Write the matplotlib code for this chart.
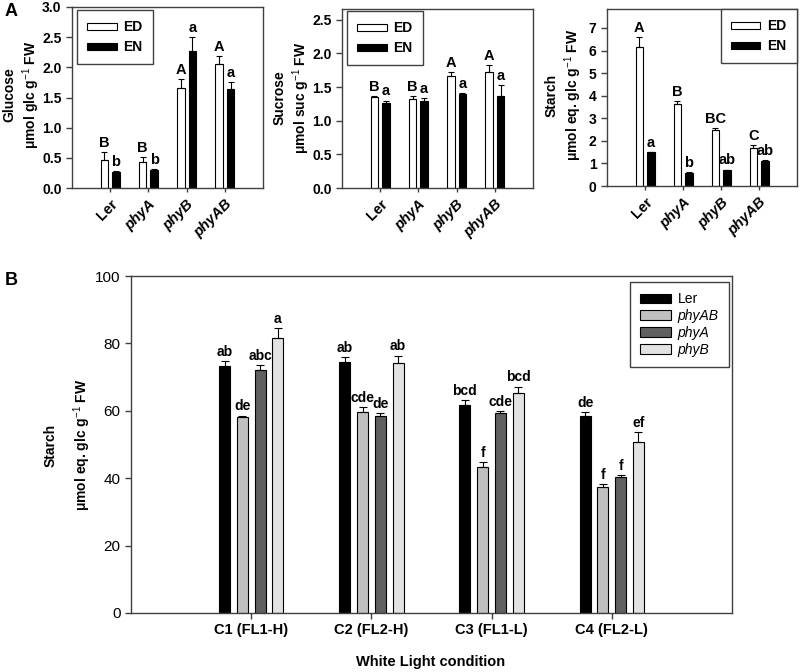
import matplotlib
matplotlib.use('Agg')
import matplotlib.pyplot as plt
import numpy as np
from matplotlib.patches import Patch

plt.rcParams['font.family'] = ['Liberation Sans', 'DejaVu Sans']
plt.rcParams['mathtext.fontset'] = 'custom'
plt.rcParams['mathtext.bf'] = 'Liberation Sans:bold'
plt.rcParams['mathtext.rm'] = 'Liberation Sans'

# ---------------- Panel A data ----------------
genotypes = ['Ler', 'phyA', 'phyB', 'phyAB']

glc_ed = [0.46, 0.425, 1.65, 2.06]
glc_ed_err = [0.13, 0.09, 0.16, 0.12]
glc_en = [0.265, 0.30, 2.27, 1.64]
glc_en_err = [0.015, 0.01, 0.23, 0.11]
glc_ed_let = ['B', 'B', 'A', 'A']
glc_en_let = ['b', 'b', 'a', 'a']

suc_ed = [1.35, 1.32, 1.67, 1.73]
suc_ed_err = [0.01, 0.04, 0.05, 0.10]
suc_en = [1.26, 1.29, 1.40, 1.36]
suc_en_err = [0.04, 0.05, 0.01, 0.17]
suc_ed_let = ['B', 'B', 'A', 'A']
suc_en_let = ['a', 'a', 'a', 'a']

sta_ed = [6.14, 3.65, 2.48, 1.68]
sta_ed_err = [0.46, 0.13, 0.09, 0.12]
sta_en = [1.50, 0.59, 0.71, 1.11]
sta_en_err = [0.02, 0.02, 0.02, 0.02]
sta_ed_let = ['A', 'B', 'BC', 'C']
sta_en_let = ['a', 'b', 'ab', 'ab']

# ---------------- Panel B data ----------------
conditions = ['C1 (FL1-H)', 'C2 (FL2-H)', 'C3 (FL1-L)', 'C4 (FL2-L)']
lines_b = ['Ler', 'phyAB', 'phyA', 'phyB']
b_ler = [73.2, 74.4, 61.8, 58.4]
b_ler_err = [1.6, 1.6, 1.5, 1.3]
b_phyab = [58.2, 59.5, 43.4, 37.4]
b_phyab_err = [0.4, 1.7, 1.3, 0.8]
b_phya = [72.0, 58.6, 59.2, 40.4]
b_phya_err = [1.5, 0.6, 0.6, 0.6]
b_phyb = [81.6, 74.3, 65.2, 50.7]
b_phyb_err = [2.9, 2.1, 2.0, 3.0]
b_ler_let = ['ab', 'ab', 'bcd', 'de']
b_phyab_let = ['de', 'cde', 'f', 'f']
b_phya_let = ['abc', 'de', 'cde', 'f']
b_phyb_let = ['a', 'ab', 'bcd', 'ef']

W, H = 800, 672
fig = plt.figure(figsize=(W / 100, H / 100), dpi=100)


def px_axes(l, t, r, b):
    return fig.add_axes([l / W, 1 - b / H, (r - l) / W, (b - t) / H])


spine_col = '#404040'


def style_axes(ax):
    for s in ax.spines.values():
        s.set_color(spine_col)
        s.set_linewidth(1.0)
    ax.tick_params(direction='out', length=4, width=1, color=spine_col)


def panel_a(ax, ed, ed_err, en, en_err, ed_let, en_let, ylim, yticks, fmt):
    x = np.arange(len(genotypes))
    off, w = 0.15, 0.2
    ax.bar(x - off, ed, w, color='white', edgecolor='black', linewidth=0.8, zorder=2)
    ax.bar(x + off, en, w, color='black', edgecolor='black', linewidth=0.8, zorder=2)
    ax.errorbar(x - off, ed, yerr=[np.zeros(len(ed)), ed_err], fmt='none',
                ecolor='black', elinewidth=0.8, capsize=2.5, capthick=0.8, zorder=3)
    ax.errorbar(x + off, en, yerr=[np.zeros(len(en)), en_err], fmt='none',
                ecolor='black', elinewidth=0.8, capsize=2.5, capthick=0.8, zorder=3)
    for i in range(len(x)):
        ax.annotate(ed_let[i], (x[i] - off, ed[i] + ed_err[i]), xytext=(0, 1.5),
                    textcoords='offset points', ha='center', va='bottom',
                    fontsize=10.5, fontweight='bold')
        ax.annotate(en_let[i], (x[i] + off, en[i] + en_err[i]), xytext=(0, 1.5),
                    textcoords='offset points', ha='center', va='bottom',
                    fontsize=10.5, fontweight='bold')
    ax.set_xlim(-1, 4)
    ax.set_ylim(*ylim)
    ax.set_yticks(yticks)
    ax.set_yticklabels([fmt.format(v) for v in yticks], fontsize=10, fontweight='bold')
    ax.set_xticks(x)
    ax.set_xticklabels(genotypes, rotation=45, ha='right', rotation_mode='anchor',
                       fontsize=10.5, fontweight='bold')
    for lab in ax.get_xticklabels():
        if lab.get_text() != 'Ler':
            lab.set_fontstyle('italic')
    style_axes(ax)
    ax.tick_params(axis='x', length=3)


def legend_a(ax, anchor, loc):
    h = [Patch(facecolor='white', edgecolor='black', linewidth=0.8, label='ED'),
         Patch(facecolor='black', edgecolor='black', linewidth=0.8, label='EN')]
    leg = ax.legend(handles=h, loc=loc, bbox_to_anchor=(anchor[0] / W, 1 - anchor[1] / H),
                    bbox_transform=fig.transFigure, borderaxespad=0,
                    prop={'weight': 'bold', 'size': 10}, handlelength=2.1,
                    handleheight=0.4, labelspacing=0.4, borderpad=0.75,
                    handletextpad=0.5, fancybox=False, framealpha=1)
    leg.get_frame().set_edgecolor(spine_col)
    leg.get_frame().set_linewidth(1.0)


# Glucose
ax1 = px_axes(72, 7, 263, 188)
panel_a(ax1, glc_ed, glc_ed_err, glc_en, glc_en_err, glc_ed_let, glc_en_let,
        (0, 3.0), np.arange(0, 3.01, 0.5), '{:.1f}')
legend_a(ax1, (77, 10), 'upper left')

# Sucrose
ax2 = px_axes(342, 9, 533, 188)
panel_a(ax2, suc_ed, suc_ed_err, suc_en, suc_en_err, suc_ed_let, suc_en_let,
        (0, 2.66), np.arange(0, 2.51, 0.5), '{:.1f}')
legend_a(ax2, (347, 11), 'upper left')

# Starch (A)
ax3 = px_axes(607, 9, 797, 186)
panel_a(ax3, sta_ed, sta_ed_err, sta_en, sta_en_err, sta_ed_let, sta_en_let,
        (0, 7.84), np.arange(0, 8, 1), '{:.0f}')
legend_a(ax3, (797, 9), 'upper right')

ylab_kw = dict(rotation=90, ha='center', va='center', fontsize=10, fontweight='bold',
               multialignment='center', linespacing=1.25)
fig.text(22 / W, 1 - 95 / H, 'Glucose\n$\\mathbf{\\mu}$mol glc g$^{-1}$ FW', **ylab_kw)
fig.text(292 / W, 1 - 98 / H, 'Sucrose\n$\\mathbf{\\mu}$mol suc g$^{-1}$ FW', **ylab_kw)
fig.text(564 / W, 1 - 95 / H, 'Starch\n$\\mathbf{\\mu}$mol eq. glc g$^{-1}$ FW', **ylab_kw)

fig.text(5 / W, 1 - 3 / H, 'A', ha='left', va='top', fontsize=13, fontweight='bold')
fig.text(5 / W, 1 - 272 / H, 'B', ha='left', va='top', fontsize=13, fontweight='bold')

# ---------------- Panel B ----------------
axb = px_axes(131, 276, 732, 613)
xb = np.arange(1, len(conditions) + 1)
pitch, bw = 0.148, 0.092
series = [(b_ler, b_ler_err, b_ler_let, 'black'),
          (b_phyab, b_phyab_err, b_phyab_let, '#c0c0c0'),
          (b_phya, b_phya_err, b_phya_let, '#606060'),
          (b_phyb, b_phyb_err, b_phyb_let, '#e2e2e2')]
handles = []
for k, (vals, errs, lets, col) in enumerate(series):
    xs = xb + (k - 1.5) * pitch
    axb.bar(xs, vals, bw, color=col, edgecolor='black', linewidth=0.8, zorder=2)
    axb.errorbar(xs, vals, yerr=[np.zeros(len(vals)), errs], fmt='none', ecolor='black',
                 elinewidth=0.8, capsize=3.2, capthick=0.8, zorder=3)
    for i in range(len(xs)):
        axb.annotate(lets[i], (xs[i], vals[i] + errs[i]), xytext=(0, 1.5),
                     textcoords='offset points', ha='center', va='bottom',
                     fontsize=10, fontweight='bold')
    handles.append(Patch(facecolor=col, edgecolor='black', linewidth=0.8, label=lines_b[k]))

axb.set_xlim(0, 5)
axb.set_ylim(0, 100)
axb.set_yticks(np.arange(0, 101, 20))
axb.set_yticklabels([str(v) for v in range(0, 101, 20)], fontsize=11)
axb.set_xticks(xb)
axb.set_xticklabels(conditions, fontsize=10.5, fontweight='bold')
style_axes(axb)
axb.tick_params(axis='x', length=4)

legb = axb.legend(handles=handles, loc='upper right',
                  bbox_to_anchor=(729 / W, 1 - 282 / H), bbox_transform=fig.transFigure,
                  borderaxespad=0, fontsize=10, handlelength=2.2, handleheight=0.7,
                  labelspacing=0.2, borderpad=0.75, handletextpad=0.5,
                  fancybox=False, framealpha=1)
legb.get_frame().set_edgecolor(spine_col)
legb.get_frame().set_linewidth(1.0)
for t in legb.get_texts():
    if t.get_text() != 'Ler':
        t.set_fontstyle('italic')

fig.text(68 / W, 1 - 445 / H, 'Starch\n$\\mathbf{\\mu}$mol eq. glc g$^{-1}$ FW', rotation=90,
         ha='center', va='center', fontsize=10, fontweight='bold', multialignment='center',
         linespacing=1.9)
fig.text(431 / W, 1 - 662 / H, 'White Light condition', ha='center', va='center',
         fontsize=10.5, fontweight='bold')

fig.savefig('out.png', dpi=100)
